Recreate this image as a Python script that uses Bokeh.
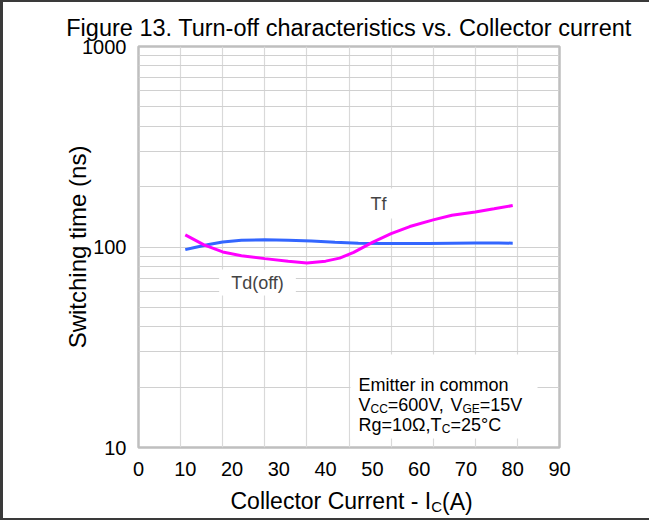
from bokeh.plotting import figure
from bokeh.models import FixedTicker, Label, BoxAnnotation, PrintfTickFormatter
from bokeh.embed import file_html
from bokeh.resources import INLINE

# ---- data ----
x_tick_values = [0, 10, 20, 30, 40, 50, 60, 70, 80, 90]
x_grid_values = [9, 18, 27, 36, 45, 54, 63, 72, 81]
y_tick_values = [10, 100, 1000]
y_grid_values = [20, 30, 40, 50, 60, 70, 80, 90, 100,
                 200, 300, 400, 500, 600, 700, 800, 900]

td_off_current = [10, 12, 15, 18, 22, 27, 32, 37, 42, 47, 52, 57, 62, 67, 72, 77, 80]
td_off_time = [97, 99.5, 103, 106, 108, 108.6, 108, 107, 105.5, 104.5, 104, 104,
               104.2, 104.5, 104.6, 104.7, 104.5]

tf_current = [10, 14, 18, 22, 27, 32, 36, 40, 43, 46, 50, 54, 58, 63, 67, 72, 76, 80]
tf_time = [115, 102.5, 94.5, 90.5, 87.5, 84.8, 83.3, 85, 88, 94, 105.5, 116.5, 126.5,
           136.5, 144, 149.5, 155, 161]

FONT = "Liberation Sans"

p = figure(width=649, height=520, y_axis_type="log", x_range=(0, 90), y_range=(10, 1000),
           output_backend="svg", toolbar_location=None,
           min_border_left=135, min_border_right=93, min_border_top=44, min_border_bottom=75)
p.title.text = "Figure 13. Turn-off characteristics vs. Collector current"
p.title.align = "center"
p.title.text_font = FONT
p.title.text_font_size = "23.5px"
p.title.text_font_style = "normal"
p.title.text_color = "black"
p.title.standoff = 11
p.background_fill_color = "white"
p.border_fill_color = "white"
p.outline_line_color = "#bfbfbf"
p.outline_line_width = 2.5

# axes
for ax in (p.xaxis[0], p.yaxis[0]):
    ax.axis_line_color = None
    ax.major_tick_line_color = None
    ax.minor_tick_line_color = None
    ax.major_tick_out = 0
    ax.major_tick_in = 0
    ax.minor_tick_out = 0
    ax.major_label_text_font = FONT
    ax.major_label_text_font_size = "20px"
    ax.major_label_text_color = "black"

p.xaxis.ticker = FixedTicker(ticks=x_tick_values)
p.xaxis.major_label_standoff = 14
p.yaxis.ticker = FixedTicker(ticks=y_tick_values)
p.yaxis.formatter = PrintfTickFormatter(format="%d")
p.yaxis.major_label_standoff = 12
p.yaxis.axis_label = "Switching time (ns)"
p.yaxis.axis_label_text_font = FONT
p.yaxis.axis_label_text_font_size = "24px"
p.yaxis.axis_label_text_font_style = "normal"
p.yaxis.axis_label_text_color = "black"
p.yaxis.axis_label_standoff = -12

# grid
p.xgrid.ticker = FixedTicker(ticks=x_grid_values)
p.ygrid.ticker = FixedTicker(ticks=y_grid_values)
p.xgrid.grid_line_color = "#d9d9d9"
p.ygrid.grid_line_color = "#d0d0d0"
p.xgrid.grid_line_width = 1.2
p.ygrid.grid_line_width = 1.2

# curves
p.line(td_off_current, td_off_time, line_color="#3366FF", line_width=3)
p.line(tf_current, tf_time, line_color="#FF00FF", line_width=3)

# curve labels
p.add_layout(Label(x=240, y=244, x_units="screen", y_units="screen", text="Tf",
                   text_font=FONT, text_font_size="18px", text_align="center",
                   text_baseline="middle", background_fill_color="white",
                   padding=dict(left=8, right=8, top=5, bottom=5)))
p.add_layout(Label(x=119, y=165, x_units="screen", y_units="screen", text="Td(off)",
                   text_font=FONT, text_font_size="18px", text_align="center",
                   text_baseline="middle", background_fill_color="white",
                   padding=dict(left=12, right=12, top=3, bottom=3)))

# condition box
p.add_layout(BoxAnnotation(left=212, right=399, top=93, bottom=9,
                           left_units="screen", right_units="screen",
                           top_units="screen", bottom_units="screen",
                           fill_color="white", fill_alpha=1.0, line_color=None))

def mk(x, y, t, size=18, **kw):
    return Label(x=x, y=y, x_units="screen", y_units="screen", text=t,
                 text_font=FONT, text_font_size=f"{size}px", text_color="black",
                 text_baseline="alphabetic", **kw)

def txt(x, y, t, size=18, **kw):
    p.add_layout(mk(x, y, t, size, **kw))

BX = 220
txt(BX, 63, "Emitter in common")
x = BX
txt(x, 43, "V"); x += 0.667 * 18
txt(x, 39, "CC", 12); x += 1.444 * 12
txt(x, 43, "=600V, "); x += 3.475 * 18
txt(x, 43, "V"); x += 0.667 * 18
txt(x, 39, "GE", 12); x += 1.445 * 12
txt(x, 43, "=15V")
x = BX
txt(x, 23, "Rg=10Ω,T"); x += 4.631 * 18
txt(x, 19, "C", 12); x += 0.722 * 12
txt(x, 23, "=25°C")

# x axis label: Collector Current - I_C(A)
p.add_layout(mk(92, 3.5, "Collector Current - I", 23), "below")
p.add_layout(mk(-128.3, -58.5, "C", 15), "right")
p.add_layout(mk(-128.5, -54.5, "(A)", 23), "right")

p.styles = {"border-left": "3px solid #3a3a3a", "border-top": "2px solid #3a3a3a",
            "border-bottom": "2px solid #3a3a3a"}

open("out.html", "w").write(file_html(p, INLINE))
